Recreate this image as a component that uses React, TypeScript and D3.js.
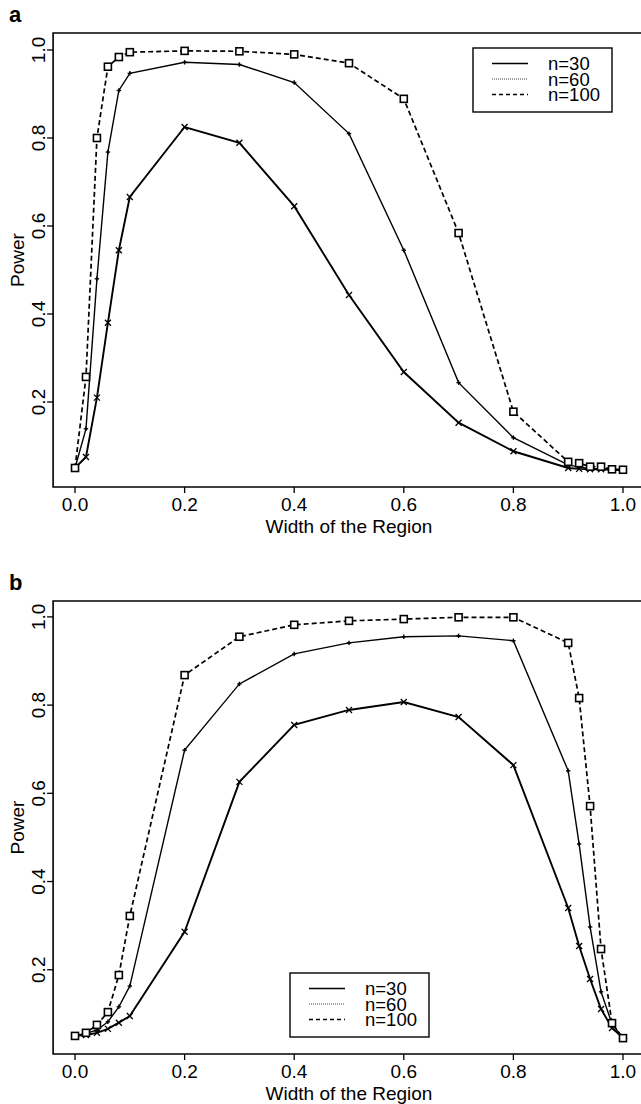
import React from "react";
import * as d3 from "d3";

// Region widths (x values)
const widths = [0, 0.02, 0.04, 0.06, 0.08, 0.1, 0.2, 0.3, 0.4, 0.5, 0.6, 0.7, 0.8, 0.9, 0.92, 0.94, 0.96, 0.98, 1.0];

// Panel a power values
const a_n30 = [0.05, 0.075, 0.21, 0.38, 0.545, 0.666, 0.825, 0.789, 0.645, 0.443, 0.268, 0.153, 0.088, 0.05, 0.048, 0.047, 0.047, 0.046, 0.045];
const a_n60 = [0.05, 0.139, 0.48, 0.768, 0.908, 0.947, 0.972, 0.967, 0.926, 0.81, 0.545, 0.244, 0.119, 0.057, 0.052, 0.049, 0.048, 0.047, 0.046];
const a_n100 = [0.05, 0.257, 0.8, 0.962, 0.984, 0.995, 0.998, 0.997, 0.99, 0.97, 0.889, 0.584, 0.178, 0.064, 0.061, 0.053, 0.053, 0.047, 0.046];

// Panel b power values
const b_n30 = [0.05, 0.052, 0.057, 0.066, 0.08, 0.095, 0.286, 0.626, 0.755, 0.789, 0.807, 0.773, 0.664, 0.34, 0.254, 0.179, 0.111, 0.068, 0.045];
const b_n60 = [0.05, 0.056, 0.063, 0.082, 0.116, 0.163, 0.698, 0.848, 0.916, 0.941, 0.955, 0.957, 0.946, 0.651, 0.485, 0.297, 0.15, 0.077, 0.045];
const b_n100 = [0.05, 0.057, 0.075, 0.104, 0.188, 0.322, 0.868, 0.955, 0.982, 0.991, 0.995, 0.999, 0.999, 0.941, 0.816, 0.571, 0.247, 0.079, 0.045];

const xTicks = [0, 0.2, 0.4, 0.6, 0.8, 1.0];
const yTicks = [0.2, 0.4, 0.6, 0.8, 1.0];
const legendLabels = ["n=30", "n=60", "n=100"];

const FONT = "'Liberation Sans', Arial, Helvetica, sans-serif";

type PanelProps = {
  label: string;
  top: number;
  bottom: number;
  yDomain: [number, number];
  series: number[][];
  legend: { x: number; y: number };
};

function Marker({ kind, cx, cy }: { kind: number; cx: number; cy: number }) {
  if (kind === 0) {
    const s = 3;
    return (
      <g stroke="#000" strokeWidth={1.3}>
        <line x1={cx - s} y1={cy - s} x2={cx + s} y2={cy + s} />
        <line x1={cx - s} y1={cy + s} x2={cx + s} y2={cy - s} />
      </g>
    );
  }
  if (kind === 1) {
    const s = 2.2;
    return (
      <g stroke="#000" strokeWidth={1.4}>
        <line x1={cx - s} y1={cy} x2={cx + s} y2={cy} />
        <line x1={cx} y1={cy - s} x2={cx} y2={cy + s} />
      </g>
    );
  }
  return <rect x={cx - 3.5} y={cy - 3.5} width={7} height={7} fill="#fff" stroke="#000" strokeWidth={1.6} />;
}

const lineStyles = [
  { width: 1.9, dash: "none" },
  { width: 1.4, dash: "none" },
  { width: 1.7, dash: "5 3" },
];
const legendStyles = [
  { width: 1.5, dash: "none", color: "#000" },
  { width: 1.2, dash: "1 1", color: "#444" },
  { width: 1.5, dash: "4 3", color: "#000" },
];

function Panel({ label, top, bottom, yDomain, series, legend }: PanelProps) {
  const left = 53.1;
  const right = 644.9;
  const x = d3.scaleLinear().domain([-0.04, 1.04]).range([left, right]);
  const y = d3.scaleLinear().domain(yDomain).range([bottom, top]);
  const line = d3
    .line<number>()
    .x((_, i) => x(widths[i]))
    .y((d) => y(d));
  const midY = (top + bottom) / 2;
  const midX = (left + right) / 2;
  return (
    <g fontFamily={FONT} fill="#000">
      <text x={9} y={top - 11} fontSize={22} fontWeight="bold">
        {label}
      </text>
      {/* frame */}
      <path d={`M${right},${top}H${left}V${bottom}H${right}`} fill="none" stroke="#000" strokeWidth={1.6} />
      {/* x axis ticks */}
      {xTicks.map((t) => (
        <g key={`x${t}`}>
          <line x1={x(t)} x2={x(t)} y1={bottom} y2={bottom + 6} stroke="#000" strokeWidth={1.3} />
          <text x={x(t)} y={bottom + 24} fontSize={19} textAnchor="middle">
            {d3.format(".1f")(t)}
          </text>
        </g>
      ))}
      {/* y axis ticks */}
      {yTicks.map((t) => (
        <g key={`y${t}`}>
          <line x1={left} x2={left - 6} y1={y(t)} y2={y(t)} stroke="#000" strokeWidth={1.3} />
          <text transform={`translate(45,${y(t)}) rotate(-90)`} fontSize={19} textAnchor="middle">
            {d3.format(".1f")(t)}
          </text>
        </g>
      ))}
      <text x={midX} y={bottom + 46} fontSize={19} textAnchor="middle">
        Width of the Region
      </text>
      <text transform={`translate(24,${midY}) rotate(-90)`} fontSize={19} textAnchor="middle">
        Power
      </text>
      {/* series */}
      {series.map((vals, si) => (
        <g key={`s${si}`}>
          <path
            d={line(vals) || ""}
            fill="none"
            stroke="#000"
            strokeWidth={lineStyles[si].width}
            strokeDasharray={lineStyles[si].dash}
          />
          {vals.map((v, i) => (
            <Marker key={i} kind={si} cx={x(widths[i])} cy={y(v)} />
          ))}
        </g>
      ))}
      {/* legend */}
      <g>
        <rect x={legend.x} y={legend.y} width={139} height={64} fill="#fff" stroke="#000" strokeWidth={1.4} />
        {legendLabels.map((lab, i) => {
          const ry = legend.y + 15.5 + i * 15.5;
          return (
            <g key={lab}>
              <line
                x1={legend.x + 19}
                x2={legend.x + 55}
                y1={ry}
                y2={ry}
                stroke={legendStyles[i].color}
                strokeWidth={legendStyles[i].width}
                strokeDasharray={legendStyles[i].dash}
              />
              <text x={legend.x + 75} y={ry + 6.5} fontSize={18.5}>
                {lab}
              </text>
            </g>
          );
        })}
      </g>
    </g>
  );
}

export default function App() {
  return (
    <svg
      width={641}
      height={1104}
      style={{ position: "absolute", left: 0, top: 0, background: "#fff" }}
    >
      <rect width={641} height={1104} fill="#fff" />
      <Panel
        label="a"
        top={33}
        bottom={487}
        yDomain={[0.0068, 1.0386]}
        series={[a_n30, a_n60, a_n100]}
        legend={{ x: 473, y: 48 }}
      />
      <Panel
        label="b"
        top={601}
        bottom={1054}
        yDomain={[0.009, 1.036]}
        series={[b_n30, b_n60, b_n100]}
        legend={{ x: 290, y: 973 }}
      />
    </svg>
  );
}
